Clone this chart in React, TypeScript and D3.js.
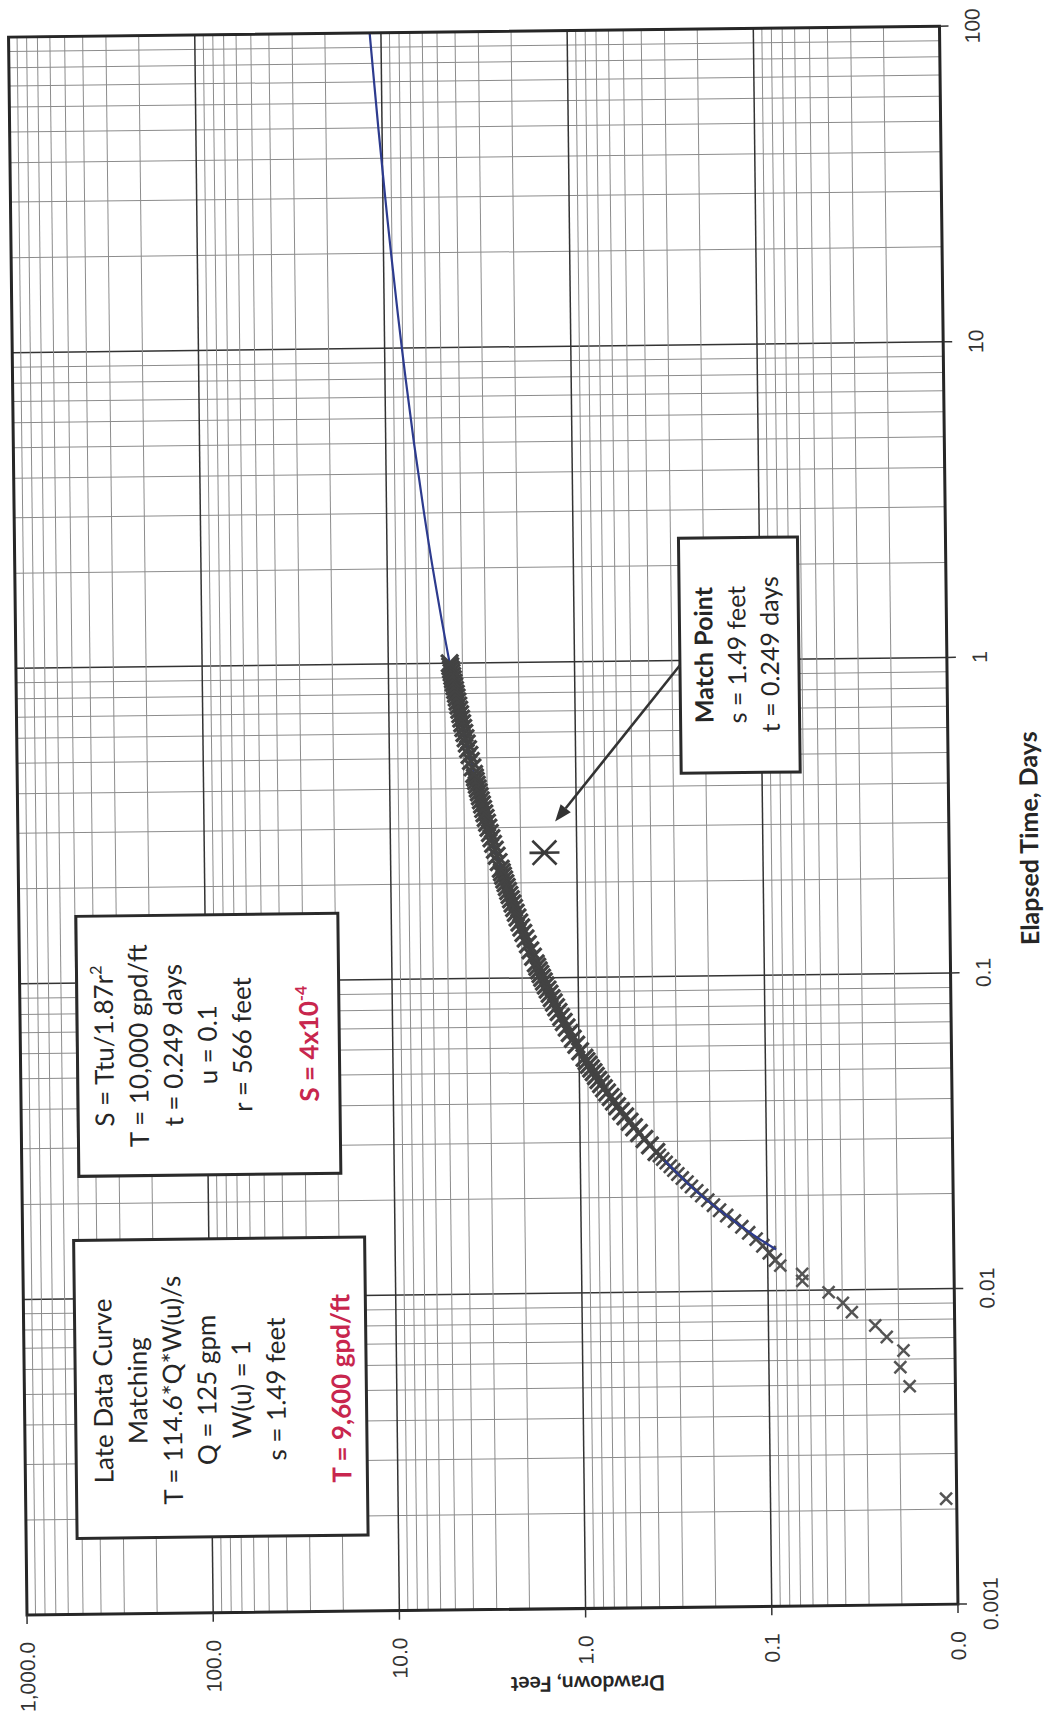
import React from 'react';
import * as d3 from 'd3';

// ---------- data ----------
const timeTicks = [0.001, 0.01, 0.1, 1, 10, 100];
const timeTickLabels = ['0.001', '0.01', '0.1', '1', '10', '100'];
const drawTicks = [1000, 100, 10, 1, 0.1, 0.01];
const drawTickLabels = ['1,000.0', '100.0', '10.0', '1.0', '0.1', '0.0'];

// early observations (days, feet)
const earlyTime = [0.00216, 0.00492, 0.00566, 0.00639, 0.00706, 0.00769, 0.00849, 0.00909, 0.00984, 0.01071, 0.01127, 0.0120];
const earlyDrawdown = [0.0114, 0.0176, 0.0197, 0.0189, 0.0232, 0.0267, 0.0356, 0.0397, 0.0473, 0.0654, 0.0654, 0.0857];

// logged observations (elapsed minutes, feet)
const bandMinutes = [
  18, 19, 20, 21, 22, 23, 24, 25, 26, 27, 28, 29, 30, 31, 32, 33, 34, 35, 36, 37, 38, 39, 40,
  42, 44, 46, 48, 50, 52, 54, 56, 58, 60, 62, 64, 66, 68, 70, 72, 74, 76, 78, 80,
  84, 88, 92, 96, 100, 104, 108, 112, 116, 120, 124, 128, 132, 136, 140, 144, 148, 152, 156, 160,
  168, 176, 184, 192, 200, 208, 216, 224, 232, 240, 248, 256, 264, 272, 280, 288, 296, 304, 312, 320,
  336, 352, 368, 384, 400, 416, 432, 448, 464, 480, 496, 512, 528, 544, 560, 576, 592, 608, 624, 640,
  672, 704, 736, 768, 800, 832, 864, 896, 928, 960, 992, 1024, 1056, 1088, 1120, 1152, 1184, 1216, 1248, 1280, 1312, 1344, 1376, 1408, 1440,
];
const bandDrawdown = [
  0.091, 0.098, 0.106, 0.115, 0.126, 0.137, 0.150, 0.165, 0.180, 0.194, 0.208, 0.224, 0.238, 0.254, 0.268, 0.284, 0.300, 0.315, 0.329, 0.346, 0.361, 0.376, 0.390,
  0.422, 0.451, 0.482, 0.512, 0.540, 0.570, 0.600, 0.629, 0.655, 0.681, 0.711, 0.739, 0.766, 0.791, 0.815, 0.838, 0.864, 0.889, 0.913, 0.936,
  0.986, 1.034, 1.078, 1.120, 1.162, 1.203, 1.242, 1.281, 1.319, 1.356, 1.392, 1.428, 1.462, 1.496, 1.529, 1.562, 1.594, 1.625, 1.656, 1.686,
  1.743, 1.799, 1.854, 1.906, 1.957, 2.006, 2.053, 2.099, 2.144, 2.187, 2.229, 2.270, 2.311, 2.349, 2.387, 2.424, 2.460, 2.496, 2.530, 2.564,
  2.629, 2.691, 2.751, 2.809, 2.864, 2.918, 2.970, 3.019, 3.068, 3.115, 3.160, 3.204, 3.247, 3.288, 3.329, 3.368, 3.407, 3.444, 3.481, 3.517,
  3.585, 3.651, 3.714, 3.775, 3.833, 3.888, 3.943, 3.994, 4.045, 4.093, 4.140, 4.186, 4.230, 4.273, 4.315, 4.356, 4.396, 4.434, 4.472, 4.508, 4.544, 4.579, 4.613, 4.647, 4.679,
];

// type curve (days, feet)
const curveTime = [0.0135, 0.015, 0.02, 0.025, 0.03, 0.04, 0.05, 0.07, 0.1, 0.15, 0.2, 0.3, 0.5, 0.7, 1, 2, 3, 5, 10, 20, 30, 50, 100];
const curveDrawdown = [0.090, 0.118, 0.222, 0.329, 0.438, 0.650, 0.837, 1.167, 1.561, 2.054, 2.42, 2.97, 3.68, 4.16, 4.68, 5.69, 6.29, 7.05, 8.08, 9.11, 9.71, 10.47, 11.50];

// match point
const matchTime = [0.249];
const matchDrawdown = [1.49];

const box1Lines = ['Late Data Curve', 'Matching', 'T = 114.6*Q*W(u)/s', 'Q = 125 gpm', 'W(u) = 1', 's = 1.49 feet'];
const box1Result = 'T = 9,600 gpd/ft';
const box2Lines = ['S = Ttu/1.87r', 'T = 10,000 gpd/ft', 't = 0.249 days', 'u = 0.1', 'r = 566 feet'];
const matchLines = ['Match Point', 's = 1.49 feet', 't = 0.249 days'];

// ---------- layout ----------
const W = 1578;
const H = 931;
const RED = '#c8264e';
const TXT = '#262626';
const BOXFONT = 'Lato, "Open Sans", sans-serif';
const AXFONT = '"Liberation Sans", Arial, sans-serif';
const SPARSE_LIMIT = 40; // minutes: below this the logged points are drawn under the curve

const isMajor = (v: number) => Math.abs(Math.log10(v) - Math.round(Math.log10(v))) < 1e-6;

export default function App() {
  const x = d3.scaleLog().domain([0.001, 100]).range([0, W]);
  const y = d3.scaleLog().domain([1000, 0.01]).range([0, H]);

  const xGrid = x.ticks();
  const yGrid = y.ticks();

  const line = d3
    .line<number>()
    .x((_, i) => x(curveTime[i]))
    .y((d) => y(d))
    .curve(d3.curveCatmullRom);

  const xMark = (cx: number, cy: number, r: number, key: string, color: string, sw: number) => (
    <path
      key={key}
      d={`M${cx - r},${cy - r}L${cx + r},${cy + r}M${cx - r},${cy + r}L${cx + r},${cy - r}`}
      stroke={color}
      strokeWidth={sw}
      fill="none"
    />
  );

  const mx = x(matchTime[0]);
  const my = y(matchDrawdown[0]);

  // arrow from match box to match point
  const a0 = [942, 664];
  const a1 = [mx + 31, my + 11];
  const dx = a1[0] - a0[0];
  const dy = a1[1] - a0[1];
  const len = Math.hypot(dx, dy);
  const ux = dx / len;
  const uy = dy / len;
  const hl = 17;
  const hw = 6.5;
  const bx = a1[0] - ux * hl;
  const by = a1[1] - uy * hl;

  return (
    <svg
      width={1047}
      height={1719}
      style={{ position: 'absolute', left: 0, top: 0, background: '#fff' }}
    >
      <rect x={0} y={0} width={1047} height={1719} fill="#fff" />
      <g transform="translate(27,1615) rotate(-90.67)">
        {/* grid */}
        {xGrid.map((v, i) => (
          <line
            key={'gx' + i}
            x1={x(v)}
            x2={x(v)}
            y1={0}
            y2={H}
            stroke={isMajor(v) ? '#333' : '#8c8c8c'}
            strokeWidth={isMajor(v) ? 1.5 : 1}
          />
        ))}
        {yGrid.map((v, i) => (
          <line
            key={'gy' + i}
            x1={0}
            x2={W}
            y1={y(v)}
            y2={y(v)}
            stroke={isMajor(v) ? '#333' : '#8c8c8c'}
            strokeWidth={isMajor(v) ? 1.5 : 1}
          />
        ))}

        {/* sparse early observations */}
        {bandMinutes.map((m, i) =>
          m < SPARSE_LIMIT ? xMark(x(m / 1440), y(bandDrawdown[i]), 6.5, 'b' + i, '#4a4a4a', 2.6) : null
        )}
        {earlyTime.map((t, i) => xMark(x(t), y(earlyDrawdown[i]), 6, 'e' + i, '#555', 2.5))}

        {/* type curve */}
        <path d={line(curveDrawdown) || ''} fill="none" stroke="#2d3b8e" strokeWidth={2.2} />

        {/* dense observations */}
        {bandMinutes.map((m, i) =>
          m >= SPARSE_LIMIT ? xMark(x(m / 1440), y(bandDrawdown[i]), 8.5, 'b' + i, '#434343', 3.2) : null
        )}

        {/* match point */}
        <g stroke="#3a3a3a" strokeWidth={2.6} fill="none">
          <path d={`M${mx - 12},${my - 12}L${mx + 12},${my + 12}M${mx - 12},${my + 12}L${mx + 12},${my - 12}M${mx},${my - 15}L${mx},${my + 15}`} />
        </g>

        {/* plot border */}
        <rect x={0} y={0} width={W} height={H} fill="none" stroke="#262626" strokeWidth={3} />

        {/* ticks */}
        {timeTicks.map((v, i) => (
          <line key={'tt' + i} x1={x(v)} x2={x(v)} y1={H} y2={H + 9} stroke="#333" strokeWidth={1.5} />
        ))}
        {drawTicks.map((v, i) => (
          <line key={'dt' + i} x1={0} x2={-9} y1={y(v)} y2={y(v)} stroke="#333" strokeWidth={1.5} />
        ))}

        {/* tick labels */}
        {timeTicks.map((v, i) => (
          <text key={'tl' + i} x={x(v)} y={H + 40} textAnchor="middle" fontFamily={AXFONT} fontSize={21} fill="#333">
            {timeTickLabels[i]}
          </text>
        ))}
        {drawTicks.map((v, i) => (
          <text
            key={'dl' + i}
            x={-27}
            y={y(v)}
            dy="0.35em"
            textAnchor="end"
            fontFamily={AXFONT}
            fontSize={21}
            fill="#333"
          >
            {drawTickLabels[i]}
          </text>
        ))}

        {/* axis titles */}
        <text x={765} y={1020} textAnchor="middle" fontFamily={BOXFONT} fontWeight="bold" fontSize={25} fill={TXT}>
          Elapsed Time, Days
        </text>
        <text
          transform="translate(-75,560) rotate(-90)"
          textAnchor="middle"
          dy="0.35em"
          fontFamily={BOXFONT}
          fontWeight="bold"
          fontSize={21}
          fill={TXT}
        >
          Drawdown, Feet
        </text>

        {/* box 1 */}
        <rect x={76} y={51} width={298} height={291} fill="#fff" stroke="#2a2a2a" strokeWidth={3} />
        {box1Lines.map((s, i) => (
          <text key={'b1' + i} x={223} y={88 + i * 34.6} textAnchor="middle" fontFamily={BOXFONT} fontSize={26} fill={TXT}>
            {s}
          </text>
        ))}
        <text x={223} y={326} textAnchor="middle" fontFamily={BOXFONT} fontWeight="bold" fontSize={26} fill={RED}>
          {box1Result}
        </text>

        {/* box 2 */}
        <rect x={438} y={57} width={260} height={262} fill="#fff" stroke="#2a2a2a" strokeWidth={3} />
        {box2Lines.map((s, i) => (
          <text key={'b2' + i} x={568} y={93 + i * 34.5} textAnchor="middle" fontFamily={BOXFONT} fontSize={26} fill={TXT}>
            {s}
            {i === 0 ? (
              <tspan fontSize={16} dy={-11}>
                2
              </tspan>
            ) : null}
          </text>
        ))}
        <text x={568} y={298} textAnchor="middle" fontFamily={BOXFONT} fontWeight="bold" fontSize={26} fill={RED}>
          S = 4x10
          <tspan fontSize={16} dy={-11}>
            -4
          </tspan>
        </text>

        {/* match point box */}
        <rect x={834} y={664} width={235} height={119} fill="#fff" stroke="#2a2a2a" strokeWidth={3} />
        {matchLines.map((s, i) => (
          <text
            key={'m' + i}
            x={952}
            y={697 + i * 33}
            textAnchor="middle"
            fontFamily={BOXFONT}
            fontWeight={i === 0 ? 'bold' : 'normal'}
            fontSize={25}
            fill={TXT}
          >
            {s}
          </text>
        ))}

        {/* arrow */}
        <line x1={a0[0]} y1={a0[1]} x2={bx} y2={by} stroke="#333" strokeWidth={2.6} />
        <path
          d={`M${a1[0]},${a1[1]}L${bx - uy * hw},${by + ux * hw}L${bx + uy * hw},${by - ux * hw}Z`}
          fill="#333"
        />
      </g>
    </svg>
  );
}
